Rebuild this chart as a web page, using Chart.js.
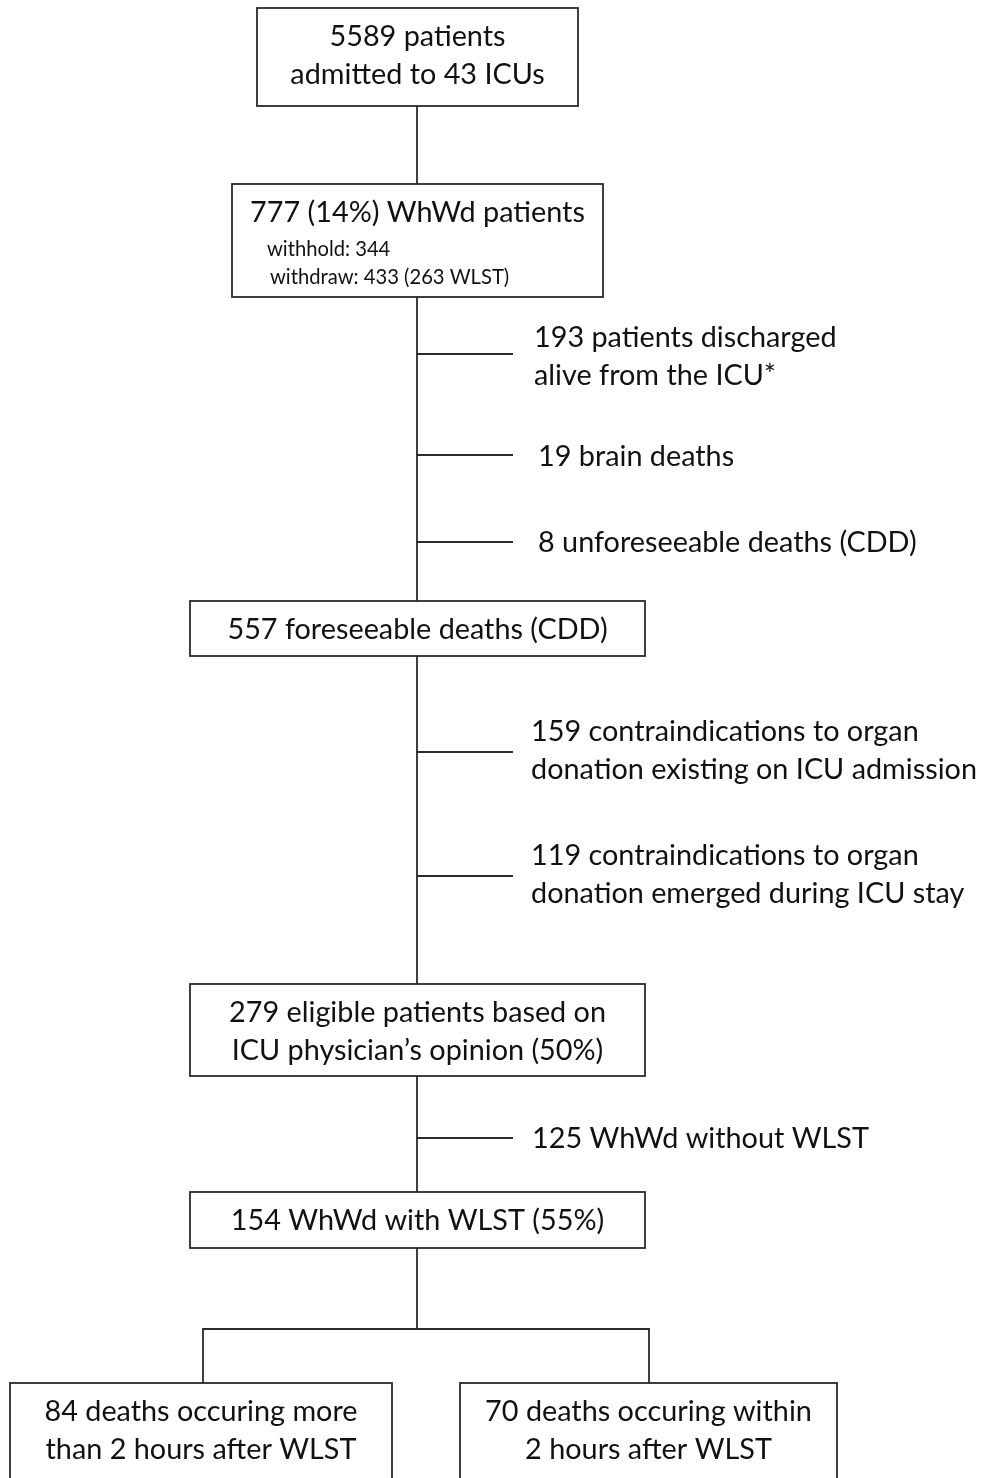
<!DOCTYPE html>
<html>
<head>
<meta charset="utf-8">
<script src="https://cdn.jsdelivr.net/npm/chart.js@4"></script>
<style>
  html, body { margin: 0; padding: 0; background: #fff; }
  #wrap { width: 984px; height: 1478px; }
</style>
</head>
<body>
<div id="wrap"><canvas id="flowChart" width="984" height="1478"></canvas></div>
<script>
// --- data: counts and texts of the flow steps ---
const stepCounts = [5589, 777, 193, 19, 8, 557, 159, 119, 279, 125, 154, 84, 70];
const stepTexts = [
    ['5589 patients', 'admitted to 43 ICUs'],
    ['777 (14%) WhWd patients'],
    ['193 patients discharged', 'alive from the ICU*'],
    ['19 brain deaths'],
    ['8 unforeseeable deaths (CDD)'],
    ['557 foreseeable deaths (CDD)'],
    ['159 contraindications to organ', 'donation existing on ICU admission'],
    ['119 contraindications to organ', 'donation emerged during ICU stay'],
    ['279 eligible patients based on', 'ICU physician\u2019s opinion (50%)'],
    ['125 WhWd without WLST'],
    ['154 WhWd with WLST (55%)'],
    ['84 deaths occuring more', 'than 2 hours after WLST'],
    ['70 deaths occuring within', '2 hours after WLST']
];
const subTexts = ['withhold: 344', 'withdraw: 433 (263 WLST)'];

// --- layout (kept apart from the data) ---
// boxes: [step index, x0, y0, x1, y1, first text line y]
const boxLayout = [
    [0, 257, 8, 578, 106, 37],
    [1, 232, 184, 603, 297, 213],
    [5, 190, 601, 645, 656, 630],
    [8, 190, 984, 645, 1076, 1013],
    [10, 190, 1192, 645, 1248, 1221],
    [11, 10, 1383, 392, 1500, 1412],
    [12, 460, 1383, 837, 1500, 1412]
];
// side notes: [step index, branch y, text x, first text line y]
const sideLayout = [
    [2, 354, 534, 338],
    [3, 455, 538, 457],
    [4, 542, 538, 543],
    [6, 752, 531, 732],
    [7, 876, 531, 856],
    [9, 1138, 532, 1139]
];
const trunkX = 417;
const branchEndX = 513;
const lineH = 37.5;

// connector lines built from the layout
const connectors = [
    [[trunkX, 106], [trunkX, 184]],
    [[trunkX, 297], [trunkX, 601]],
    [[trunkX, 656], [trunkX, 984]],
    [[trunkX, 1076], [trunkX, 1192]],
    [[trunkX, 1248], [trunkX, 1329]],
    [[203, 1383], [203, 1329], [649, 1329], [649, 1383]]
];
sideLayout.forEach(s => connectors.push([[trunkX, s[1]], [branchEndX, s[1]]]));

const lineColor = '#2b2b2b';
const textColor = '#111';
const fontFamily = 'Lato, "Open Sans", sans-serif';
const mainFont = '28.8px ' + fontFamily;
const smallFont = '20.2px ' + fontFamily;

const datasets = connectors.map(seg => ({
    type: 'line',
    data: seg.map(p => ({ x: p[0], y: p[1] })),
    borderColor: lineColor,
    borderWidth: 1.8,
    pointRadius: 0,
    fill: false,
    tension: 0
}));

const flowPlugin = {
    id: 'flowBoxes',
    afterDatasetsDraw(chart) {
        const { ctx, scales: { x, y } } = chart;
        ctx.save();
        ctx.textBaseline = 'middle';

        // boxes with their text
        boxLayout.forEach(b => {
            const [i, x0, y0, x1, y1, ty] = b;
            const px0 = x.getPixelForValue(x0), px1 = x.getPixelForValue(x1);
            const py0 = y.getPixelForValue(y0), py1 = y.getPixelForValue(y1);
            ctx.fillStyle = '#fff';
            ctx.fillRect(px0, py0, px1 - px0, py1 - py0);
            ctx.strokeStyle = lineColor;
            ctx.lineWidth = 1.8;
            ctx.strokeRect(px0, py0, px1 - px0, py1 - py0);

            ctx.fillStyle = textColor;
            ctx.font = mainFont;
            ctx.textAlign = 'center';
            const cx = (px0 + px1) / 2;
            stepTexts[i].forEach((t, k) => {
                ctx.fillText(t, cx, y.getPixelForValue(ty + k * lineH));
            });
            if (i === 1) {
                ctx.font = smallFont;
                ctx.textAlign = 'left';
                ctx.fillText(subTexts[0], x.getPixelForValue(267), y.getPixelForValue(249));
                ctx.fillText(subTexts[1], x.getPixelForValue(270), y.getPixelForValue(277));
            }
        });

        // side notes
        ctx.font = mainFont;
        ctx.textAlign = 'left';
        ctx.fillStyle = textColor;
        sideLayout.forEach(s => {
            const [i, , tx, ty] = s;
            stepTexts[i].forEach((t, k) => {
                ctx.fillText(t, x.getPixelForValue(tx), y.getPixelForValue(ty + k * lineH));
            });
        });
        ctx.restore();
    }
};

new Chart(document.getElementById('flowChart').getContext('2d'), {
    type: 'scatter',
    data: { datasets: datasets },
    options: {
        responsive: false,
        animation: false,
        layout: { padding: 0 },
        scales: {
            x: { type: 'linear', min: 0, max: 984, display: false },
            y: { type: 'linear', min: 0, max: 1478, reverse: true, display: false }
        },
        plugins: {
            legend: { display: false },
            tooltip: { enabled: false }
        }
    },
    plugins: [flowPlugin]
});
</script>
</body>
</html>
